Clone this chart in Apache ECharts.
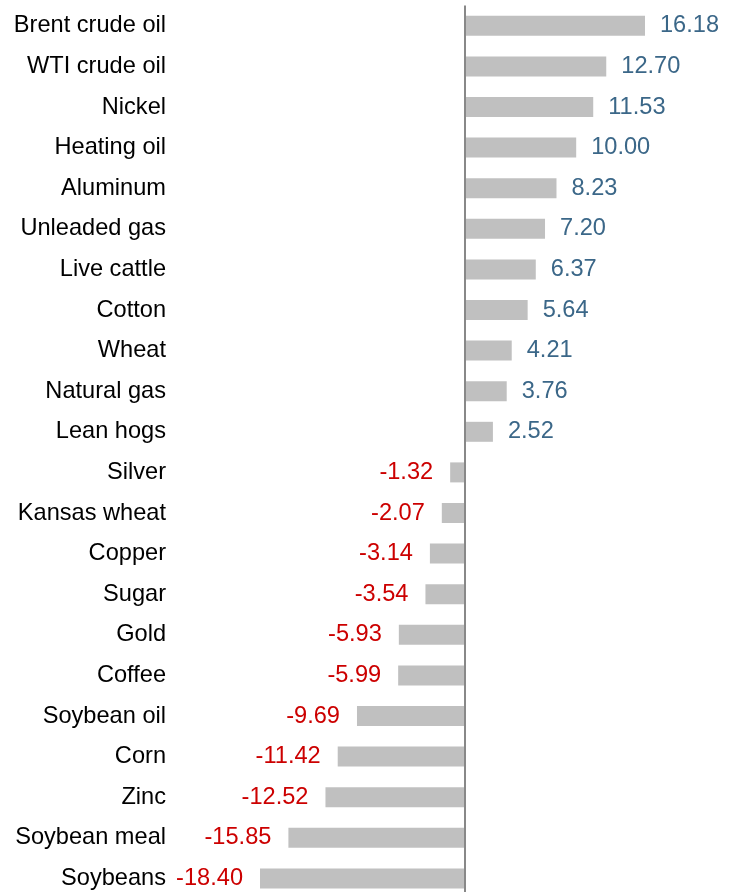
<!DOCTYPE html>
<html><head><meta charset="utf-8">
<script src="https://cdn.jsdelivr.net/npm/echarts@6/dist/echarts.min.js"></script>
<style>html,body{margin:0;padding:0;background:#fff;overflow:hidden}#c{width:734px;height:900px}</style>
</head><body><div id="c"></div>
<script>
const categories = ["Brent crude oil","WTI crude oil","Nickel","Heating oil","Aluminum","Unleaded gas","Live cattle","Cotton","Wheat","Natural gas","Lean hogs","Silver","Kansas wheat","Copper","Sugar","Gold","Coffee","Soybean oil","Corn","Zinc","Soybean meal","Soybeans"];
const values = [16.18,12.70,11.53,10.00,8.23,7.20,6.37,5.64,4.21,3.76,2.52,-1.32,-2.07,-3.14,-3.54,-5.93,-5.99,-9.69,-11.42,-12.52,-15.85,-18.40];

const FONT = '"Liberation Sans", Arial, sans-serif';
const chart = echarts.init(document.getElementById('c'), null, {renderer:'canvas'});
chart.setOption({
  animation: false,
  grid: {left: 260, right: 89, top: 5.5, height: 893.2, containLabel: false},
  xAxis: {type: 'value', min: 'dataMin', max: 'dataMax', show: false},
  yAxis: {
    type: 'category', data: categories, inverse: true,
    axisLine: {show: false, onZero: false}, axisTick: {show: false},
    axisLabel: {color: '#000', fontSize: 23.6, fontFamily: FONT, margin: 94, align: 'right', padding: [6,0,0,0]}
  },
  series: [{
    type: 'bar', barWidth: 20,
    itemStyle: {color: '#c0c0c0'},
    data: values.map(v => ({
      value: v,
      label: {
        show: true,
        position: v >= 0 ? 'right' : 'left',
        distance: v >= 0 ? 15 : 17,
        color: v >= 0 ? '#3b6788' : '#cc0000',
        fontSize: 23.6, fontFamily: FONT,
        padding: [6,0,0,0],
        formatter: p => p.value.toFixed(2)
      }
    })),
    markLine: {
      silent: true, symbol: 'none',
      label: {show: false},
      lineStyle: {color: '#888', width: 2, type: 'solid'},
      data: [{xAxis: 0}]
    }
  }]
});
</script></body></html>
